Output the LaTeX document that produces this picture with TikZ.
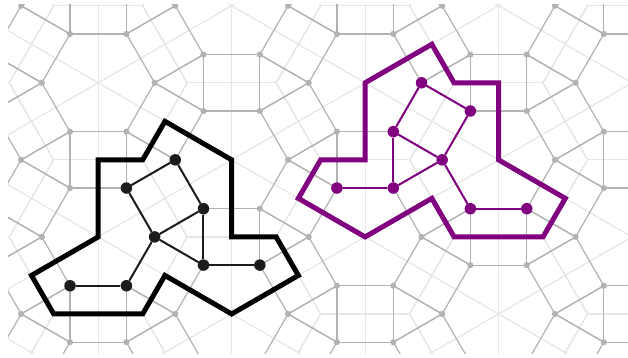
\documentclass[tikz,border=0pt]{standalone}
\usetikzlibrary{calc}
\definecolor{tilegray}{RGB}{178,178,178}
\definecolor{faintgray}{RGB}{230,230,230}
\definecolor{inkblack}{RGB}{28,28,28}
\definecolor{purp}{RGB}{128,0,128}
\tikzset{
  lightline/.style={draw=faintgray, line width=1.2pt},
  tileedge/.style={draw=tilegray, line width=1.2pt},
  tiledot/.style={fill=tilegray},
  outlineblack/.style={draw=black, line width=5pt, line join=miter},
  outlinepurp/.style={draw=purp, line width=5pt, line join=miter},
  gnode/.style={circle, fill=inkblack, inner sep=0pt, minimum size=11.5pt},
  pnode/.style={circle, fill=purp, inner sep=0pt, minimum size=11.5pt},
  gedge/.style={draw=inkblack, line width=2pt},
  pedge/.style={draw=purp, line width=2pt}
}
\begin{document}
\begin{tikzpicture}[x=1pt,y=-1pt]
\useasboundingbox (0,0) rectangle (628,358);
\fill[white] (0,0) rectangle (628,358);
\begin{scope}
\clip (8,4.5) rectangle (628,353.5);
% faint dual lines
\foreach \i in {-1,...,5}{
  \foreach \j in {-4,...,3}{
    \pgfmathsetmacro{\hx}{98.2+133.45*\i}
    \pgfmathsetmacro{\hy}{82.8+77.05*\i+154.1*\j}
    \foreach \k in {30,90,...,330}{
      \draw[lightline] (\hx,\hy) -- ++({77.05*cos(\k)},{77.05*sin(\k)});
      \draw[lightline] ({\hx+77.05*cos(\k)+44.49*sin(\k)},{\hy+77.05*sin(\k)-44.49*cos(\k)})
         -- ++({-88.98*sin(\k)},{88.98*cos(\k)});
    }
  }
}
% tiling edges
\foreach \i in {-1,...,5}{
  \foreach \j in {-4,...,3}{
    \pgfmathsetmacro{\hx}{98.2+133.45*\i}
    \pgfmathsetmacro{\hy}{82.8+77.05*\i+154.1*\j}
    \foreach \k in {0,60,...,300}{
      \draw[tileedge] ({\hx+56.4*cos(\k)},{\hy+56.4*sin(\k)}) -- ({\hx+56.4*cos(\k+60)},{\hy+56.4*sin(\k+60)});
      \draw[tileedge] ({\hx+56.4*cos(\k)},{\hy+56.4*sin(\k)}) -- ++({56.4*cos(\k+30)},{56.4*sin(\k+30)});
      \draw[tileedge] ({\hx+56.4*cos(\k)},{\hy+56.4*sin(\k)}) -- ++({56.4*cos(\k-30)},{56.4*sin(\k-30)});
    }
  }
}
% tiling vertices
\foreach \i in {-1,...,5}{
  \foreach \j in {-4,...,3}{
    \pgfmathsetmacro{\hx}{98.2+133.45*\i}
    \pgfmathsetmacro{\hy}{82.8+77.05*\i+154.1*\j}
    \foreach \k in {0,60,...,300}{
      \fill[tiledot] ({\hx+56.4*cos(\k)},{\hy+56.4*sin(\k)}) circle (3.1pt);
    }
  }
}
\end{scope}
% black region outline
\draw[outlineblack] (98.2,159.85) -- (142.7,159.85) -- (164.93,121.33) -- (231.65,159.85)
  -- (231.65,236.9) -- (276.14,236.9) -- (298.38,275.42) -- (231.65,313.95)
  -- (164.93,275.43) -- (142.69,313.95) -- (53.72,313.95) -- (31.47,275.43)
  -- (98.2,236.9) -- cycle;
% purple region outline
\draw[outlinepurp] (431.83,44.27) -- (454.07,82.8) -- (498.55,82.8) -- (498.55,159.85)
  -- (565.28,198.38) -- (543.04,236.9) -- (454.07,236.9) -- (431.83,198.38)
  -- (365.1,236.9) -- (298.37,198.38) -- (320.62,159.85) -- (365.1,159.85)
  -- (365.1,82.8) -- cycle;
% black graph
\node[gnode] (n1) at (126.4,188.05) {};
\node[gnode] (n2) at (154.6,236.9) {};
\node[gnode] (n3) at (70.0,285.75) {};
\node[gnode] (n4) at (126.4,285.75) {};
\node[gnode] (n5) at (175.25,159.85) {};
\node[gnode] (n6) at (203.45,208.7) {};
\node[gnode] (n7) at (203.45,265.1) {};
\node[gnode] (n8) at (259.85,265.1) {};
\draw[gedge] (n5) -- (n1);
\draw[gedge] (n5) -- (n6);
\draw[gedge] (n1) -- (n2);
\draw[gedge] (n2) -- (n6);
\draw[gedge] (n6) -- (n7);
\draw[gedge] (n2) -- (n7);
\draw[gedge] (n7) -- (n8);
\draw[gedge] (n2) -- (n4);
\draw[gedge] (n4) -- (n3);
% purple graph
\node[pnode] (m1) at (421.5,82.8) {};
\node[pnode] (m2) at (393.3,131.65) {};
\node[pnode] (m3) at (470.35,111.0) {};
\node[pnode] (m4) at (442.15,159.85) {};
\node[pnode] (m5) at (393.3,188.05) {};
\node[pnode] (m6) at (336.9,188.05) {};
\node[pnode] (m7) at (470.35,208.7) {};
\node[pnode] (m8) at (526.75,208.7) {};
\draw[pedge] (m1) -- (m3);
\draw[pedge] (m1) -- (m2);
\draw[pedge] (m2) -- (m4);
\draw[pedge] (m3) -- (m4);
\draw[pedge] (m2) -- (m5);
\draw[pedge] (m5) -- (m4);
\draw[pedge] (m6) -- (m5);
\draw[pedge] (m4) -- (m7);
\draw[pedge] (m7) -- (m8);
\end{tikzpicture}
\end{document}
